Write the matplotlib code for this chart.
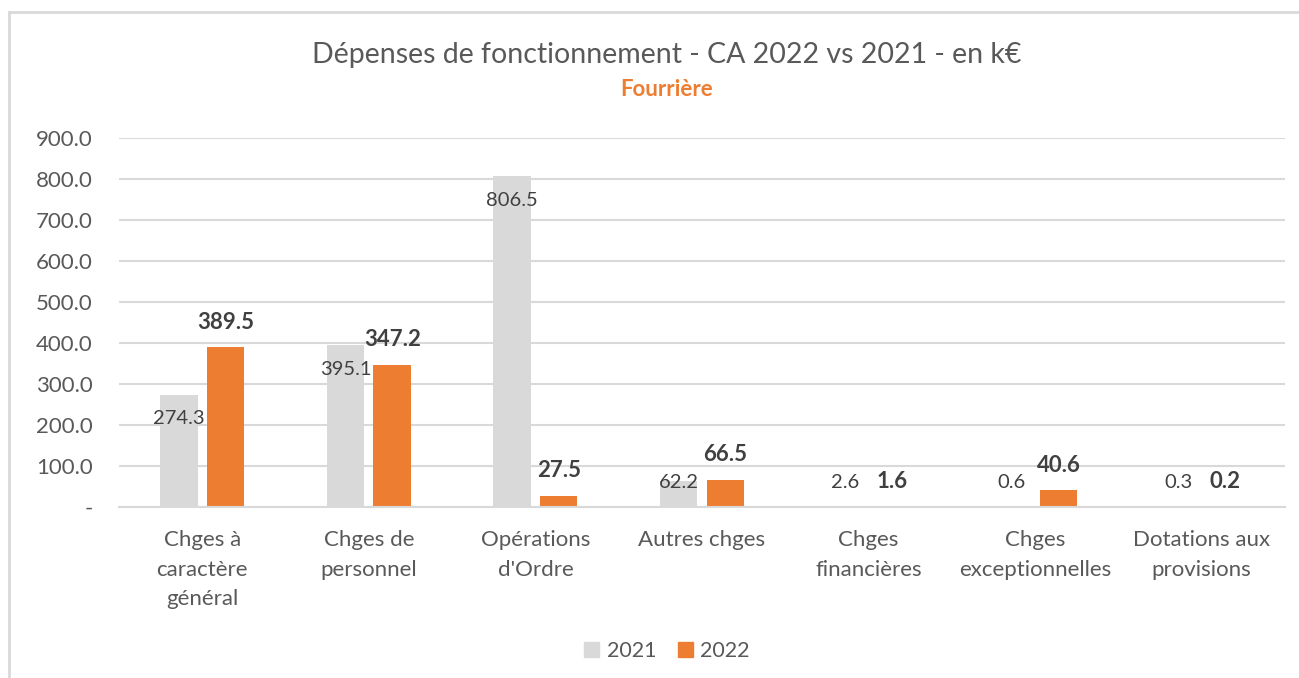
import matplotlib.pyplot as plt
from matplotlib.lines import Line2D
from matplotlib.patches import Patch

categories = [
    "Chges à\ncaractère\ngénéral",
    "Chges de\npersonnel",
    "Opérations\nd'Ordre",
    "Autres chges",
    "Chges\nfinancières",
    "Chges\nexceptionnelles",
    "Dotations aux\nprovisions",
]
values_2021 = [274.3, 395.1, 806.5, 62.2, 2.6, 0.6, 0.3]
values_2022 = [389.5, 347.2, 27.5, 66.5, 1.6, 40.6, 0.2]
yticks = [0, 100, 200, 300, 400, 500, 600, 700, 800, 900]

GREY = "#D9D9D9"
ORANGE = "#ED7D31"
TEXT = "#595959"
LABEL = "#404040"

plt.rcParams["font.family"] = ["Lato", "DejaVu Sans"]

fig = plt.figure(figsize=(12.99, 6.78), dpi=100)
ax = fig.add_axes([119 / 1299, 1 - 507 / 678, 1166 / 1299, 369 / 678])

x = range(len(categories))
off, w = 0.14, 0.225
ax.bar([i - off for i in x], values_2021, width=w, color=GREY, zorder=2)
ax.bar([i + off for i in x], values_2022, width=w, color=ORANGE, zorder=2)

ax.set_xlim(-0.5, len(categories) - 0.5)
ax.set_ylim(0, 900)

# 24 px inside the bar top, clamped above the base (Excel "inside end")
px = 900 / 369
for i, v in enumerate(values_2021):
    y = max(v - 24 * px, 24 * px)
    ax.text(i - off, y, f"{v:.1f}", ha="center", va="center",
            fontsize=14.5, color=LABEL, zorder=3)
for i, v in enumerate(values_2022):
    ax.annotate(f"{v:.1f}", (i + off, v), xytext=(0, 25), textcoords="offset pixels",
                ha="center", va="center", fontsize=16, fontweight="bold",
                color=LABEL, zorder=3)

ax.set_yticks(yticks)
ax.set_yticklabels(["-" if t == 0 else f"{t:.1f}" for t in yticks])
ax.set_xticks(list(x))
ax.set_xticklabels(categories, linespacing=1.6)
ax.tick_params(axis="both", length=0, colors=TEXT)
ax.tick_params(axis="y", pad=19, labelsize=16)
ax.tick_params(axis="x", pad=16.5, labelsize=16)
for lab in ax.get_xticklabels():
    lab.set_verticalalignment("top")

ax.grid(axis="y", color=GREY, linewidth=1.5, zorder=0)
for side in ["top", "right", "left"]:
    ax.spines[side].set_visible(False)
ax.spines["bottom"].set_color(GREY)
ax.spines["bottom"].set_linewidth(1.5)

fig.text(667 / 1299, 1 - 55 / 678, "Dépenses de fonctionnement - CA 2022 vs 2021 - en k€",
         ha="center", va="center", fontsize=20.5, color=TEXT)
fig.text(667 / 1299, 1 - 89 / 678, "Fourrière", ha="center", va="center",
         fontsize=16, fontweight="bold", color=ORANGE)

handles = [Patch(color=GREY, label="2021"), Patch(color=ORANGE, label="2022")]
fig.legend(handles=handles, loc="center", bbox_to_anchor=(667 / 1299, 1 - 651 / 678),
           ncol=2, frameon=False, fontsize=15.5, labelcolor=TEXT,
           handlelength=0.7, handleheight=0.7, handletextpad=0.35, columnspacing=1.0)

# chart frame (top and left edges visible in the crop)
fig.add_artist(Line2D([9 / 1299, 1], [1 - 12 / 678, 1 - 12 / 678], color=GREY, lw=2))
fig.add_artist(Line2D([9 / 1299, 9 / 1299], [0, 1 - 12 / 678], color=GREY, lw=2))

fig.savefig("out.png", dpi=100, facecolor="white")
